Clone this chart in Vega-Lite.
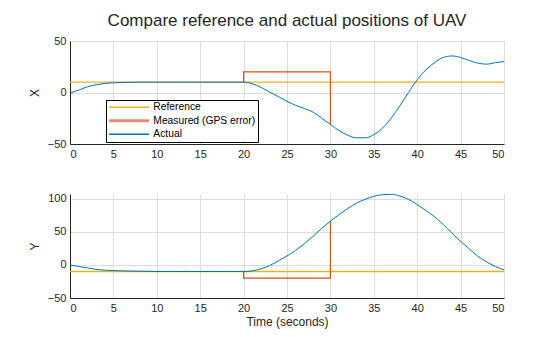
{
 "$schema": "https://vega.github.io/schema/vega-lite/v6.json",
 "padding": {"left": 28, "top": 12, "right": 20, "bottom": 5},
 "title": {"text": "Compare reference and actual positions of UAV", "fontSize": 17, "fontWeight": "normal", "color": "#262626", "anchor": "middle", "frame": "group", "offset": 5},
 "data": {"values": [
  {"i":0,"s":"Reference","t":0,"X":10,"Y":-10},
  {"i":1,"s":"Reference","t":50,"X":10,"Y":-10},
  {"i":5,"s":"Measured (GPS error)","t":20,"X":10,"Y":-10},
  {"i":6,"s":"Measured (GPS error)","t":20,"X":20,"Y":-20},
  {"i":7,"s":"Measured (GPS error)","t":30,"X":20,"Y":-20},
  {"i":8,"s":"Measured (GPS error)","t":30,"X":-31,"Y":66},
  {"i":10,"s":"Actual","t":0,"X":-0.6,"Y":0},
  {"i":11,"s":"Actual","t":1,"X":2.3,"Y":-2.5},
  {"i":12,"s":"Actual","t":2,"X":5.5,"Y":-4.5},
  {"i":13,"s":"Actual","t":3,"X":7.5,"Y":-6.8},
  {"i":14,"s":"Actual","t":4,"X":8.8,"Y":-8},
  {"i":15,"s":"Actual","t":5,"X":9.4,"Y":-8.6},
  {"i":16,"s":"Actual","t":6,"X":9.7,"Y":-9},
  {"i":17,"s":"Actual","t":7,"X":9.9,"Y":-9.3},
  {"i":18,"s":"Actual","t":8,"X":10,"Y":-9.6},
  {"i":19,"s":"Actual","t":9,"X":10,"Y":-9.8},
  {"i":20,"s":"Actual","t":10,"X":10,"Y":-10},
  {"i":21,"s":"Actual","t":12,"X":10,"Y":-10},
  {"i":22,"s":"Actual","t":14,"X":10,"Y":-10},
  {"i":23,"s":"Actual","t":16,"X":10,"Y":-10},
  {"i":24,"s":"Actual","t":18,"X":10,"Y":-10},
  {"i":25,"s":"Actual","t":20,"X":10,"Y":-10},
  {"i":26,"s":"Actual","t":21,"X":8.5,"Y":-9},
  {"i":27,"s":"Actual","t":22,"X":5,"Y":-6},
  {"i":28,"s":"Actual","t":23,"X":0.5,"Y":-1},
  {"i":29,"s":"Actual","t":24,"X":-4,"Y":6},
  {"i":30,"s":"Actual","t":25,"X":-8.5,"Y":13.5},
  {"i":31,"s":"Actual","t":26,"X":-12.5,"Y":22},
  {"i":32,"s":"Actual","t":27,"X":-15.5,"Y":32},
  {"i":33,"s":"Actual","t":28,"X":-19,"Y":43},
  {"i":34,"s":"Actual","t":29,"X":-25,"Y":55},
  {"i":35,"s":"Actual","t":30,"X":-31,"Y":66},
  {"i":36,"s":"Actual","t":31,"X":-37,"Y":76},
  {"i":37,"s":"Actual","t":32,"X":-41.5,"Y":85},
  {"i":38,"s":"Actual","t":33,"X":-44,"Y":93},
  {"i":39,"s":"Actual","t":34,"X":-44,"Y":99},
  {"i":40,"s":"Actual","t":35,"X":-41,"Y":103.5},
  {"i":41,"s":"Actual","t":36,"X":-34.5,"Y":106},
  {"i":42,"s":"Actual","t":37,"X":-25,"Y":106.5},
  {"i":43,"s":"Actual","t":38,"X":-13,"Y":104},
  {"i":44,"s":"Actual","t":39,"X":0,"Y":99},
  {"i":45,"s":"Actual","t":40,"X":12.5,"Y":91},
  {"i":46,"s":"Actual","t":41,"X":22,"Y":82},
  {"i":47,"s":"Actual","t":42,"X":29,"Y":72.6},
  {"i":48,"s":"Actual","t":43,"X":34,"Y":61},
  {"i":49,"s":"Actual","t":44,"X":35.5,"Y":48},
  {"i":50,"s":"Actual","t":45,"X":34,"Y":35.5},
  {"i":51,"s":"Actual","t":46,"X":31,"Y":24},
  {"i":52,"s":"Actual","t":47,"X":28.5,"Y":13},
  {"i":53,"s":"Actual","t":48,"X":27.5,"Y":4.5},
  {"i":54,"s":"Actual","t":49,"X":29,"Y":-2.5},
  {"i":55,"s":"Actual","t":50,"X":30,"Y":-7.6}
 ]},
 "spacing": 33,
 "resolve": {"scale": {"color": "independent"}, "legend": {"color": "independent"}},
 "vconcat": [
  {
   "width": 434, "height": 103,
   "encoding": {
    "x": {"field": "t", "type": "quantitative", "scale": {"domain": [0, 50], "nice": false}, "axis": {"values": [0,5,10,15,20,25,30,35,40,45,50], "title": null}},
    "y": {"field": "X", "type": "quantitative", "scale": {"domain": [-50, 50], "nice": false}, "axis": {"values": [-50, 0, 50], "title": "X"}},
    "color": {"field": "s", "type": "nominal", "scale": {"domain": ["Reference", "Measured (GPS error)", "Actual"], "range": ["#EDB120", "#D95319", "#0072BD"]},
     "legend": {"title": null, "orient": "none", "legendX": 36, "legendY": 59, "strokeColor": "#000000", "fillColor": "#ffffff", "padding": 2,
      "symbolType": "M-4,0H4", "symbolSize": 100, "symbolStrokeWidth": 1.5, "symbolOffset": 16, "labelOffset": 19,
      "labelFontSize": 10.3, "labelColor": "#000000", "rowPadding": 1.5,
      "encode": {"symbols": {"update": {"strokeWidth": {"signal": "datum.value === 'Measured (GPS error)' ? 3 : 1.5"}, "opacity": {"signal": "datum.value === 'Measured (GPS error)' ? 0.65 : 1"}}}}}},
    "order": {"field": "i"}
   },
   "layer": [
    {"transform": [{"filter": "datum.s === 'Reference'"}], "mark": {"type": "line", "strokeWidth": 1.3}},
    {"transform": [{"filter": "datum.s === 'Measured (GPS error)'"}], "mark": {"type": "line", "strokeWidth": 1.2}},
    {"transform": [{"filter": "datum.s === 'Actual'"}], "mark": {"type": "line", "strokeWidth": 1, "interpolate": "monotone"}}
   ]
  },
  {
   "width": 434, "height": 104,
   "encoding": {
    "x": {"field": "t", "type": "quantitative", "scale": {"domain": [0, 50], "nice": false}, "axis": {"values": [0,5,10,15,20,25,30,35,40,45,50], "title": "Time (seconds)"}},
    "y": {"field": "Y", "type": "quantitative", "scale": {"domain": [-50, 107], "nice": false}, "axis": {"values": [-50, 0, 50, 100], "title": "Y"}},
    "color": {"field": "s", "type": "nominal", "scale": {"domain": ["Reference", "Measured (GPS error)", "Actual"], "range": ["#EDB120", "#D95319", "#0072BD"]}, "legend": null},
    "order": {"field": "i"}
   },
   "layer": [
    {"transform": [{"filter": "datum.s === 'Reference'"}], "mark": {"type": "line", "strokeWidth": 1.3}},
    {"transform": [{"filter": "datum.s === 'Measured (GPS error)'"}], "mark": {"type": "line", "strokeWidth": 1.2}},
    {"transform": [{"filter": "datum.s === 'Actual'"}], "mark": {"type": "line", "strokeWidth": 1, "interpolate": "monotone"}}
   ]
  }
 ],
 "config": {
  "font": "Liberation Sans",
  "view": {"stroke": null},
  "axis": {"domainColor": "#262626", "labelColor": "#262626", "titleColor": "#262626", "gridColor": "#dcdcdc", "labelFontSize": 11, "titleFontSize": 12, "titleFontWeight": "normal", "ticks": false, "labelPadding": 4, "titlePadding": 3},
  "axisY": {"titlePadding": 6}
 }
}
